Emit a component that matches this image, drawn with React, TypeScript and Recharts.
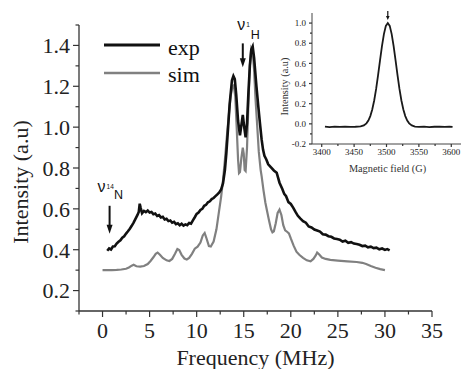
import { Label, Legend, Line, LineChart, ReferenceLine, XAxis, YAxis } from 'recharts'

const SERIF = '"Liberation Serif", "Times New Roman", serif'
const SANS = '"Liberation Sans", Arial, sans-serif'
const AXIS = '#333'
const INK = '#111'
const GREY = '#808080'

// ENDOR spectrum, experimental (noisy trace)
const expF = [
  0.5, 0.7, 0.9, 1.1, 1.3, 1.5, 1.7, 1.9, 2.1, 2.3, 2.5, 2.7, 2.9, 3.1, 3.3, 3.5, 3.7, 3.85, 3.95, 4.05,
  4.2, 4.4, 4.6, 4.8, 5.0, 5.2, 5.4, 5.6, 5.8, 6.0, 6.2, 6.4, 6.6, 6.8, 7.0, 7.2, 7.4, 7.6, 7.8, 8.0,
  8.2, 8.4, 8.6, 8.8, 9.0, 9.2, 9.4, 9.6, 9.8, 10.0, 10.2, 10.4, 10.6, 10.8, 11.0, 11.2, 11.4, 11.6, 11.8, 12.0,
  12.2, 12.4, 12.6, 12.8, 13.0, 13.15, 13.3, 13.5, 13.75, 13.9, 14.05, 14.2, 14.4, 14.6, 14.75, 14.9, 15.05, 15.2, 15.35, 15.5,
  15.65, 15.8, 15.95, 16.1, 16.35, 16.55, 16.7, 16.9, 17.05, 17.2, 17.4, 17.6, 17.9, 18.2, 18.5, 18.8, 19.1, 19.3, 19.5, 19.75,
  20.0, 20.25, 20.5, 20.75, 21.0, 21.3, 21.6, 21.9, 22.2, 22.5, 22.8, 23.1, 23.4, 23.7, 24.0, 24.3, 24.6, 24.9, 25.2, 25.5,
  25.8, 26.1, 26.4, 26.7, 27.0, 27.3, 27.6, 27.9, 28.2, 28.5, 28.8, 29.1, 29.4, 29.7, 30.0, 30.25, 30.5,
]
const expV = [
  0.395, 0.406, 0.401, 0.416, 0.417, 0.43, 0.439, 0.446, 0.459, 0.466, 0.479, 0.49, 0.503, 0.517, 0.533, 0.551, 0.569, 0.585, 0.625, 0.605,
  0.579, 0.59, 0.584, 0.592, 0.582, 0.585, 0.574, 0.577, 0.565, 0.569, 0.558, 0.561, 0.548, 0.551, 0.54, 0.543, 0.532, 0.536, 0.525, 0.529,
  0.52, 0.527, 0.518, 0.524, 0.52, 0.531, 0.528, 0.544, 0.559, 0.575, 0.582, 0.595, 0.6, 0.615, 0.62, 0.632, 0.637, 0.648, 0.653, 0.662,
  0.671, 0.68, 0.695, 0.725, 0.79, 0.87, 0.97, 1.11, 1.23, 1.25, 1.235, 1.16, 1.03, 0.96, 1.01, 1.06, 1.0, 0.95, 1.02, 1.17,
  1.3, 1.38, 1.395, 1.34, 1.2, 1.1, 1.03, 0.94, 0.89, 0.86, 0.842, 0.818, 0.803, 0.788, 0.777, 0.728, 0.697, 0.673, 0.662, 0.633,
  0.624, 0.606, 0.585, 0.566, 0.553, 0.54, 0.532, 0.514, 0.509, 0.499, 0.494, 0.489, 0.476, 0.474, 0.466, 0.463, 0.455, 0.452, 0.449, 0.44,
  0.444, 0.434, 0.437, 0.43, 0.428, 0.424, 0.418, 0.42, 0.412, 0.415, 0.408, 0.41, 0.402, 0.406, 0.399, 0.403, 0.397,
]

// simulated spectrum
const simF = [
  0, 0.5, 1.0, 1.5, 2.0, 2.5, 2.8, 3.1, 3.3, 3.6, 4.0, 4.4, 4.8, 5.1, 5.4, 5.65, 5.85, 6.1, 6.4, 6.8,
  7.1, 7.4, 7.7, 7.95, 8.15, 8.4, 8.7, 8.95, 9.2, 9.5, 9.8, 10.1, 10.4, 10.65, 10.85, 11.05, 11.3, 11.5, 11.8, 12.1,
  12.35, 12.6, 12.8, 13.0, 13.2, 13.4, 13.6, 13.8, 13.95, 14.1, 14.25, 14.4, 14.5, 14.6, 14.75, 14.9, 15.0, 15.1, 15.2, 15.35,
  15.5, 15.65, 15.8, 15.95, 16.1, 16.25, 16.4, 16.6, 16.8, 16.9, 17.1, 17.3, 17.5, 17.7, 17.9, 18.05, 18.2, 18.4, 18.6, 18.8,
  19.0, 19.2, 19.4, 19.6, 19.8, 20.0, 20.3, 20.6, 20.9, 21.3, 21.7, 22.1, 22.4, 22.65, 22.8, 23.0, 23.3, 23.7, 24.2, 25.0,
  26.0, 27.0, 27.6, 28.0, 28.5, 29.0, 29.5, 30.0,
]
const simV = [
  0.3, 0.3, 0.3, 0.301, 0.303, 0.307, 0.313, 0.322, 0.326, 0.319, 0.317, 0.32, 0.33, 0.345, 0.363, 0.38, 0.386, 0.375, 0.36, 0.348,
  0.345, 0.355, 0.38, 0.403, 0.398, 0.375, 0.357, 0.352, 0.36, 0.38, 0.405, 0.415, 0.435, 0.47, 0.482, 0.455, 0.418, 0.416, 0.44, 0.5,
  0.58, 0.66, 0.74, 0.84, 0.95, 1.05, 1.15, 1.2, 1.205, 1.15, 1.0, 0.84, 0.775, 0.78, 0.85, 0.9, 0.87, 0.79, 0.785, 0.9,
  1.12, 1.3, 1.385, 1.37, 1.28, 1.14, 1.03, 0.88, 0.79, 0.76, 0.69, 0.63, 0.585, 0.54, 0.5, 0.485, 0.49, 0.53, 0.58, 0.596,
  0.57, 0.52, 0.495, 0.488, 0.48, 0.455, 0.42, 0.39, 0.375, 0.36, 0.348, 0.343, 0.355, 0.372, 0.386, 0.378, 0.362, 0.355, 0.35, 0.347,
  0.343, 0.34, 0.336, 0.33, 0.32, 0.312, 0.305, 0.3,
]

const xTicks = [-2.5, 0, 2.5, 5, 7.5, 10, 12.5, 15, 17.5, 20, 22.5, 25, 27.5, 30, 32.5, 35]
const yTicks = [0.1, 0.2, 0.3, 0.4, 0.5, 0.6, 0.7, 0.8, 0.9, 1.0, 1.1, 1.2, 1.3, 1.4, 1.5]

// EPR line (inset)
const fieldG = [
  3405, 3412, 3420, 3428, 3436, 3444, 3452, 3460, 3465, 3469, 3472, 3475, 3478, 3481, 3484, 3487, 3490, 3493, 3496, 3499,
  3502, 3505, 3508, 3511, 3514, 3517, 3520, 3523, 3526, 3529, 3532, 3535, 3539, 3544, 3550, 3558, 3566, 3574, 3582, 3590, 3597, 3602,
]
const eprV = [
  -0.028, -0.032, -0.027, -0.031, -0.028, -0.03, -0.029, -0.026, -0.016, 0.005, 0.033, 0.077, 0.143, 0.232, 0.347, 0.483, 0.63, 0.771, 0.891, 0.972,
  1.0, 0.972, 0.891, 0.771, 0.63, 0.483, 0.347, 0.232, 0.143, 0.077, 0.033, 0.005, -0.016, -0.027, -0.03, -0.028, -0.032, -0.029, -0.027, -0.031, -0.028, -0.03,
]
const insetXTicks = [3400, 3425, 3450, 3475, 3500, 3525, 3550, 3575, 3600]
const insetYTicks = [-0.2, -0.1, 0, 0.1, 0.2, 0.3, 0.4, 0.5, 0.6, 0.7, 0.8, 0.9, 1.0]

const expData = expF.map((f, i) => ({ f, v: expV[i] }))
const simData = simF.map((f, i) => ({ f, v: simV[i] }))
const eprData = fieldG.map((f, i) => ({ f, v: eprV[i] }))

const evenTenth = (v: number) => Math.round(v * 10) % 2 === 0
const everyFive = (v: number) => Math.abs(v - Math.round(v / 5) * 5) < 1e-6
const every50 = (v: number) => Math.round(v) % 50 === 0

function xTick(isMajor: (v: number) => boolean, len: number, minorLen: number, gap: number, size: number, fmt: (v: number) => string) {
  return (props: any) => {
    const { x, y, payload } = props
    const v = payload.value
    const axisY = y - len - gap
    const major = isMajor(v)
    return (
      <g>
        <line x1={x} x2={x} y1={axisY} y2={axisY + (major ? len : minorLen)} stroke={AXIS} strokeWidth={1.2} />
        {major && (
          <text x={x} y={y} dy="0.71em" textAnchor="middle" fontFamily={SERIF} fontSize={size} fill="#222">
            {fmt(v)}
          </text>
        )}
      </g>
    )
  }
}

function yTick(isMajor: (v: number) => boolean, len: number, minorLen: number, gap: number, size: number) {
  return (props: any) => {
    const { x, y, payload } = props
    const v = payload.value
    const axisX = x + len + gap
    const major = isMajor(v)
    return (
      <g>
        <line x1={axisX} x2={axisX - (major ? len : minorLen)} y1={y} y2={y} stroke={AXIS} strokeWidth={1.2} />
        {major && (
          <text x={x} y={y} dy="0.355em" textAnchor="end" fontFamily={SERIF} fontSize={size} fill="#222">
            {v.toFixed(1)}
          </text>
        )}
      </g>
    )
  }
}

function downArrow(head: number, half: number, width: number, extra?: (x: number, y: number) => any) {
  return (p: any) => (
    <g>
      <line x1={p.x1} y1={p.y1} x2={p.x2} y2={p.y2 - head + 1} stroke={INK} strokeWidth={width} />
      <polygon points={`${p.x2 - half},${p.y2 - head} ${p.x2 + half},${p.y2 - head} ${p.x2},${p.y2}`} fill={INK} />
      {extra && extra(p.x1, p.y1)}
    </g>
  )
}

const nuN = (x: number, y: number) => (
  <g fontFamily={SANS} fill="#111">
    <text x={x - 12} y={y - 14} fontSize={16}>ν</text>
    <text x={x - 3} y={y - 17} fontSize={6.5}>14</text>
    <text x={x + 4.5} y={y - 7} fontSize={12.5}>N</text>
  </g>
)

const nuH = (x: number, y: number) => (
  <g fontFamily={SANS} fill="#111">
    <text x={x - 5.5} y={y - 13} fontSize={16}>ν</text>
    <text x={x + 3.5} y={y - 16} fontSize={6.5}>1</text>
    <text x={x + 8} y={y - 4} fontSize={12.5}>H</text>
  </g>
)

function LegendBox() {
  return (
    <svg width={110} height={60}>
      <line x1={4} x2={60} y1={15} y2={15} stroke={INK} strokeWidth={3} />
      <text x={68} y={25} fontFamily={SERIF} fontSize={22} fill="#111">exp</text>
      <line x1={4} x2={60} y1={43} y2={43} stroke={GREY} strokeWidth={2.5} />
      <text x={68} y={52} fontFamily={SERIF} fontSize={22} fill="#111">sim</text>
    </svg>
  )
}

export default function App() {
  return (
    <div style={{ position: 'absolute', left: 0, top: 0, width: 462, height: 369, background: '#fff' }}>
      <LineChart width={462} height={369} margin={{ top: 25, right: 30, bottom: 0, left: 0 }}>
        <XAxis
          type="number"
          dataKey="f"
          domain={[-2.5, 35]}
          ticks={xTicks}
          interval={0}
          allowDataOverflow
          height={58}
          tickSize={6}
          tickMargin={5}
          tickLine={false}
          axisLine={{ stroke: AXIS, strokeWidth: 1.3 }}
          tick={xTick(everyFive, 6, 3.5, 5, 22, (v) => String(v))}
        >
          <Label
            content={(p: any) => (
              <text x={p.viewBox.x + p.viewBox.width / 2} y={p.viewBox.y + p.viewBox.height - 4} textAnchor="middle" fontFamily={SERIF} fontSize={22} fill="#222">
                Frequency (MHz)
              </text>
            )}
          />
        </XAxis>
        <YAxis
          type="number"
          domain={[0.1, 1.5]}
          ticks={yTicks}
          interval={0}
          allowDataOverflow
          width={79}
          tickSize={6}
          tickMargin={3}
          tickLine={false}
          axisLine={{ stroke: AXIS, strokeWidth: 1.3 }}
          tick={yTick(evenTenth, 6, 3.5, 3, 22)}
        >
          <Label
            content={(p: any) => {
              const cx = p.viewBox.x + 20
              const cy = p.viewBox.y + p.viewBox.height / 2 + 14
              return (
                <text x={cx} y={cy} transform={`rotate(-90 ${cx} ${cy})`} textAnchor="middle" dominantBaseline="central" fontFamily={SERIF} fontSize={22} fill="#222">
                  Intensity (a.u)
                </text>
              )
            }}
          />
        </YAxis>
        <Legend
          layout="horizontal"
          verticalAlign="middle"
          align="center"
          content={() => <LegendBox />}
          wrapperStyle={{ position: 'absolute', left: 100, top: 30, width: 110, height: 60 }}
        />
        <Line data={simData} dataKey="v" stroke={GREY} strokeWidth={2.2} dot={false} isAnimationActive={false} legendType="none" />
        <Line data={expData} dataKey="v" stroke={INK} strokeWidth={2.6} dot={false} isAnimationActive={false} legendType="none" />
        <ReferenceLine segment={[{ x: 0.75, y: 0.615 }, { x: 0.75, y: 0.478 }]} ifOverflow="visible" shape={downArrow(9, 3, 2, nuN)} />
        <ReferenceLine segment={[{ x: 14.9, y: 1.41 }, { x: 14.9, y: 1.293 }]} ifOverflow="visible" shape={downArrow(9, 3, 2, nuH)} />
      </LineChart>

      <div style={{ position: 'absolute', left: 276, top: 0 }}>
        <LineChart width={186} height={180} margin={{ top: 13, right: 1, bottom: 0, left: 0 }}>
          <XAxis
            type="number"
            dataKey="f"
            domain={[3385, 3615]}
            ticks={insetXTicks}
            interval={0}
            allowDataOverflow
            height={36}
            tickSize={3}
            tickMargin={2}
            tickLine={false}
            axisLine={{ stroke: '#444', strokeWidth: 1 }}
            tick={xTick(every50, 3, 2, 2, 9, (v) => String(v))}
          >
            <Label
              content={(p: any) => (
                <text x={p.viewBox.x + p.viewBox.width / 2 + 1} y={p.viewBox.y + 28} textAnchor="middle" fontFamily={SERIF} fontSize={10.3} fill="#333">
                  Magnetic field (G)
                </text>
              )}
            />
          </XAxis>
          <YAxis
            type="number"
            domain={[-0.2, 1.1]}
            ticks={insetYTicks}
            interval={0}
            allowDataOverflow
            width={36}
            tickSize={3}
            tickMargin={3}
            tickLine={false}
            axisLine={{ stroke: '#444', strokeWidth: 1 }}
            tick={yTick(evenTenth, 3, 2, 3, 9)}
          >
            <Label
              content={(p: any) => {
                const cx = p.viewBox.x + 8
                const cy = p.viewBox.y + p.viewBox.height / 2 + 8
                return (
                  <text x={cx} y={cy} transform={`rotate(-90 ${cx} ${cy})`} textAnchor="middle" dominantBaseline="central" fontFamily={SERIF} fontSize={10.3} fill="#333">
                    Intensity (a.u)
                  </text>
                )
              }}
            />
          </YAxis>
          <Line data={eprData} dataKey="v" stroke="#1a1a1a" strokeWidth={1.8} dot={false} isAnimationActive={false} />
          <ReferenceLine segment={[{ x: 3502, y: 1.12 }, { x: 3502, y: 1.03 }]} ifOverflow="visible" shape={downArrow(4, 1.8, 1.2)} />
        </LineChart>
      </div>
    </div>
  )
}
